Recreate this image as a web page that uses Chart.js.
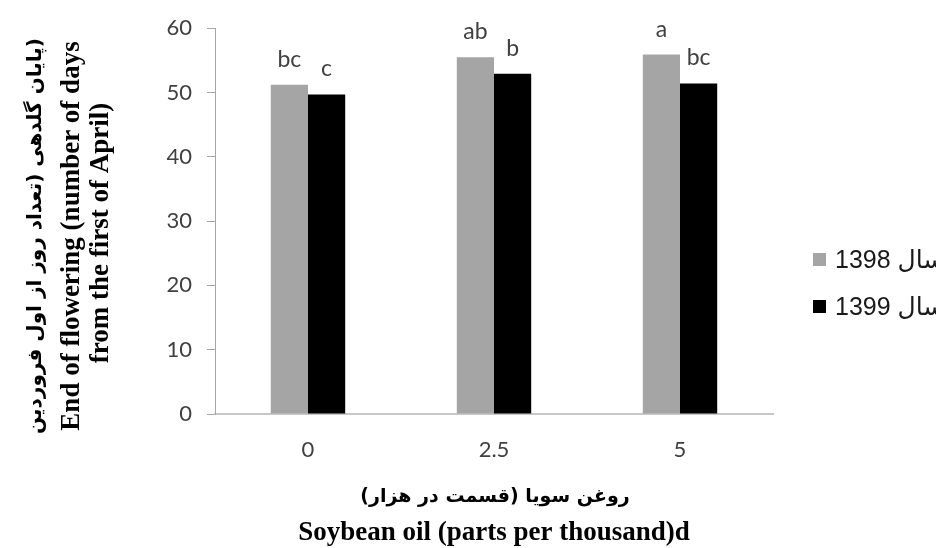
<!DOCTYPE html>
<html>
<head>
<meta charset="utf-8">
<script src="https://cdn.jsdelivr.net/npm/chart.js@4.4.1/dist/chart.umd.min.js"></script>
<style>
  html, body { margin: 0; padding: 0; background: #ffffff; }
  #wrap { width: 936px; height: 548px; position: relative; }
</style>
</head>
<body>
<div id="wrap"><canvas id="chart"></canvas></div>
<script>
// Soybean oil dose (parts per thousand)
const categories = ['0', '2.5', '5'];

// End of flowering, days from 1 Farvardin (1 April)
const values1398 = [51.2, 55.5, 55.9];
const values1399 = [49.7, 52.9, 51.4];

// Mean-separation letters printed above each bar
const letters1398 = ['bc', 'ab', 'a'];
const letters1399 = ['c', 'b', 'bc'];

const seriesNames = ['سال 1398', 'سال 1399'];
const seriesColors = ['#a5a5a5', '#000000'];

// y axis range and step
const yMin = 0, yMax = 60, yStep = 10;

const yTitleFa = '(پایان گلدهی (تعداد روز از اول فروردین';
const yTitleEn = ['End of flowering (number of days', 'from the first of April)'];
const xTitleFa = 'روغن سویا (قسمت در هزار)';
const xTitleEn = 'Soybean oil (parts per thousand)d';

// letters drawn just above every bar
const barLetters = {
  id: 'barLetters',
  afterDatasetsDraw(chart) {
    const ctx = chart.ctx;
    ctx.save();
    ctx.font = '23px Lato';
    ctx.fillStyle = '#404040';
    ctx.textAlign = 'center';
    ctx.textBaseline = 'alphabetic';
    chart.data.datasets.forEach((ds, i) => {
      chart.getDatasetMeta(i).data.forEach((bar, j) => {
        ctx.fillText(ds.letters[j], bar.x, bar.y - 18);
      });
    });
    ctx.restore();
  }
};

// legend on the right: square swatch + series name
const sideLegend = {
  id: 'sideLegend',
  afterDraw(chart) {
    const ctx = chart.ctx;
    ctx.save();
    ctx.textBaseline = 'middle';
    ctx.textAlign = 'left';
    ctx.font = '25px "Liberation Sans", "DejaVu Sans"';
    chart.data.datasets.forEach((ds, i) => {
      const cy = 260 + i * 47;
      ctx.fillStyle = ds.backgroundColor;
      ctx.fillRect(813, cy - 7, 13, 13);
      ctx.fillStyle = '#1a1a1a';
      ctx.fillText(ds.label, 835, cy + 1);
    });
    ctx.restore();
  }
};

// two-language axis titles
const axisTitles = {
  id: 'axisTitles',
  afterDraw(chart) {
    const ctx = chart.ctx;
    ctx.save();
    ctx.fillStyle = '#000000';
    ctx.textAlign = 'center';
    ctx.textBaseline = 'middle';

    // vertical title
    ctx.save();
    ctx.translate(0, 236);
    ctx.rotate(-Math.PI / 2);
    ctx.font = 'bold 20px "DejaVu Sans"';
    ctx.direction = 'rtl';
    ctx.fillText(yTitleFa, 0, 36);
    ctx.direction = 'ltr';
    ctx.font = 'bold 27px "Liberation Serif"';
    ctx.fillText(yTitleEn[0], 0, 72);
    ctx.fillText(yTitleEn[1], 3, 101);
    ctx.restore();

    // horizontal title
    ctx.font = 'bold 19px "DejaVu Sans"';
    ctx.direction = 'rtl';
    ctx.fillText(xTitleFa, 495, 497);
    ctx.direction = 'ltr';
    ctx.font = 'bold 27px "Liberation Serif"';
    ctx.fillText(xTitleEn, 494, 533);
    ctx.restore();
  }
};

new Chart(document.getElementById('chart'), {
  type: 'bar',
  data: {
    labels: categories,
    datasets: [
      { label: seriesNames[0], data: values1398, letters: letters1398, backgroundColor: seriesColors[0] },
      { label: seriesNames[1], data: values1399, letters: letters1399, backgroundColor: seriesColors[1] }
    ]
  },
  options: {
    responsive: true,
    maintainAspectRatio: false,
    animation: false,
    layout: { padding: { top: 23, right: 163, bottom: 0, left: 0 } },
    datasets: { bar: { categoryPercentage: 0.4, barPercentage: 1.0 } },
    plugins: {
      legend: { display: false },
      tooltip: { enabled: false }
    },
    scales: {
      x: {
        grid: { drawOnChartArea: false, drawTicks: false },
        border: { color: '#c8c8c8', width: 2 },
        ticks: { color: '#404040', font: { family: 'Lato', size: 22 }, padding: 23 },
        afterFit(scale) { scale.height = 134; }
      },
      y: {
        min: yMin,
        max: yMax,
        grid: { drawOnChartArea: false, tickLength: 8, tickColor: '#a6a6a6' },
        border: { color: '#a6a6a6', width: 1 },
        ticks: { stepSize: yStep, color: '#404040', font: { family: 'Lato', size: 22 }, padding: 15 },
        afterFit(scale) { scale.width = 215; }
      }
    }
  },
  plugins: [barLetters, sideLegend, axisTitles]
});
</script>
</body>
</html>
